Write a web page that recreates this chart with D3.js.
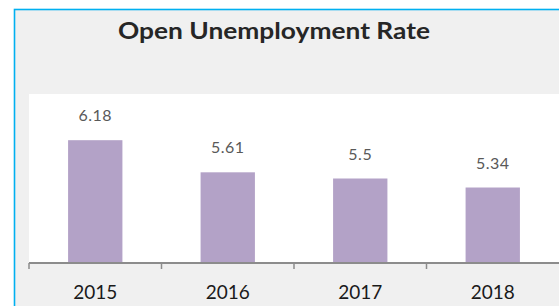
<!DOCTYPE html>
<html>
<head>
<meta charset="utf-8">
<script src="https://cdn.jsdelivr.net/npm/d3@7"></script>
<style>
  html, body { margin: 0; padding: 0; background: #ffffff; }
  svg { display: block; }
</style>
</head>
<body>
<svg id="chart" width="559" height="306"></svg>
<script>
const title = "Open Unemployment Rate";
const years = ["2015", "2016", "2017", "2018"];
const rates = [6.18, 5.61, 5.5, 5.34];
const yDomain = [4, 7];

const svg = d3.select("#chart");
const W = 559, H = 306;
const plot = { left: 29, right: 559, top: 94, bottom: 263 };

// chart frame
svg.append("rect")
  .attr("x", 14.5).attr("y", 9.5)
  .attr("width", W + 20).attr("height", H + 20)
  .attr("fill", "#f0f0f0")
  .attr("stroke", "#00b0f0").attr("stroke-width", 1.6);

// plot area
svg.append("rect")
  .attr("x", plot.left).attr("y", plot.top)
  .attr("width", plot.right - plot.left + 5).attr("height", plot.bottom - plot.top)
  .attr("fill", "#ffffff");

// title
const titleText = svg.append("text")
  .attr("x", 274).attr("y", 39)
  .attr("text-anchor", "middle")
  .attr("font-family", "Lato, 'Open Sans', sans-serif")
  .attr("font-size", 23).attr("font-weight", 700)
  .attr("fill", "#262626")
  .text(title);
// stretch to the reference's wide title
const natural = titleText.node().getComputedTextLength();
titleText.attr("textLength", 312).attr("lengthAdjust", "spacingAndGlyphs");

const x = d3.scaleBand().domain(years)
  .range([plot.left, plot.right])
  .paddingInner(0.59).paddingOuter(0.295);
const xCat = d3.scaleBand().domain(years).range([plot.left, plot.right]).padding(0);
const y = d3.scaleLinear().domain(yDomain).range([plot.bottom, plot.top]);

const data = years.map((yr, i) => ({ year: yr, value: rates[i] }));

svg.append("g").selectAll("rect").data(data).join("rect")
  .attr("x", d => x(d.year))
  .attr("width", x.bandwidth())
  .attr("y", d => y(d.value))
  .attr("height", d => y(yDomain[0]) - y(d.value))
  .attr("fill", "#b3a2c7");

svg.append("g").selectAll("text").data(data).join("text")
  .attr("x", d => x(d.year) + x.bandwidth() / 2)
  .attr("y", d => y(d.value) - 19)
  .attr("text-anchor", "middle")
  .attr("font-family", "Lato, 'Open Sans', sans-serif")
  .attr("font-size", 16)
  .attr("letter-spacing", 0.5)
  .attr("fill", "#595959")
  .text(d => d.value);

// x axis: boundary ticks
const axisG = svg.append("g").attr("transform", `translate(0,${plot.bottom})`);
axisG.call(d3.axisBottom(xCat).tickSize(6).tickFormat(""))
  .call(g => g.selectAll(".tick line").attr("transform", `translate(${-xCat.bandwidth() / 2},0)`))
  .call(g => g.select(".domain").remove());
axisG.selectAll(".tick line").attr("stroke", "#8c8c8c").attr("stroke-width", 1.5);
axisG.append("line")
  .attr("x1", plot.left).attr("x2", plot.right + 5)
  .attr("y1", 0).attr("y2", 0)
  .attr("stroke", "#8c8c8c").attr("stroke-width", 2);

// x labels
const labelG = svg.append("g").attr("transform", `translate(0,${plot.bottom})`);
labelG.call(d3.axisBottom(x).tickSize(0).tickPadding(0))
  .call(g => g.select(".domain").remove());
labelG.selectAll(".tick text")
  .attr("y", 36).attr("dy", null)
  .attr("font-family", "Lato, 'Open Sans', sans-serif")
  .attr("font-size", 19)
  .attr("fill", "#1a1a1a");
</script>
</body>
</html>
